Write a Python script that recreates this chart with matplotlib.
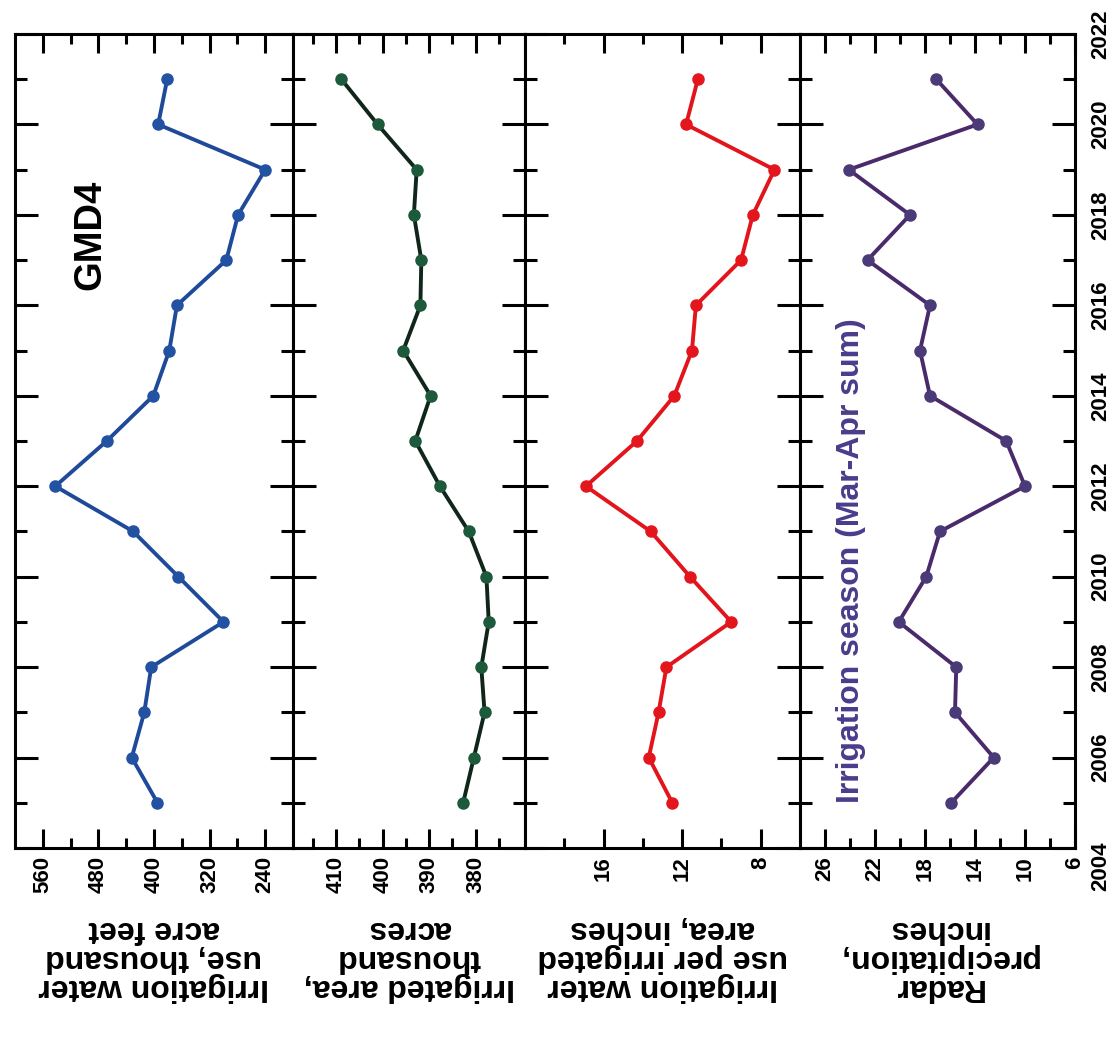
import matplotlib
matplotlib.use("Agg")
import matplotlib.pyplot as plt
from matplotlib.ticker import MultipleLocator

plt.rcParams['font.family'] = ['Liberation Sans', 'DejaVu Sans']
plt.rcParams['font.weight'] = 'bold'

# Annual series, 2005-2021
years = list(range(2005, 2022))
water_use = [395, 432, 414, 404, 300, 365, 430, 542, 468, 401, 378, 367, 296, 279, 240, 394, 381]
irrigated_area = [382.7, 380.4, 378.1, 378.8, 377.2, 377.7, 381.5, 387.7, 393.0, 389.7,
                  395.6, 391.9, 391.7, 393.3, 392.7, 401.1, 408.9]
water_per_area = [12.5, 13.7, 13.2, 12.8, 9.5, 11.6, 13.6, 16.9, 14.3, 12.4,
                  11.5, 11.3, 9.0, 8.4, 7.3, 11.8, 11.2]
precip = [15.9, 12.5, 15.6, 15.5, 20.1, 17.9, 16.8, 10.0, 11.5, 17.6,
          18.4, 17.6, 22.6, 19.2, 24.1, 13.8, 17.1]

year_ticks = list(range(2004, 2023, 2))

wu_major = [560, 480, 400, 320, 240]
wu_minor = [520, 440, 360, 280]
ia_major = [410, 400, 390, 380]
ia_minor = [415, 405, 395, 385, 375]
wpa_major = [16, 12, 8]
wpa_minor = [18, 14, 10]
pr_major = [26, 22, 18, 14, 10, 6]
pr_minor = [24, 20, 16, 12, 8]

labels = [
    "Irrigation water\nuse, thousand\nacre feet",
    "Irrigated area,\nthousand\nacres",
    "Irrigation water\nuse per irrigated\narea, inches",
    "Radar\nprecipitation,\ninches",
]

W, H = 1117, 1051
fig = plt.figure(figsize=(W / 100, H / 100), dpi=100)
fig.patch.set_facecolor("white")

top_px, bot_px = 34, 848
edges_px = [15, 293, 525, 800, 1075]

panels = [
    dict(values=water_use, xlim=(600, 200), major=wu_major, minor=wu_minor,
         line="#1f4a9a", marker="#2352a3"),
    dict(values=irrigated_area, xlim=(419.3, 369.4), major=ia_major, minor=ia_minor,
         line="#10261a", marker="#1c5a3b"),
    dict(values=water_per_area, xlim=(20, 6), major=wpa_major, minor=wpa_minor,
         line="#e2141c", marker="#e3161e"),
    dict(values=precip, xlim=(28, 6), major=pr_major, minor=pr_minor,
         line="#4a2a6a", marker="#4b3a78"),
]

for i, p in enumerate(panels):
    x0, x1 = edges_px[i], edges_px[i + 1]
    ax = fig.add_axes([x0 / W, 1 - bot_px / H, (x1 - x0) / W, (bot_px - top_px) / H])
    ax.plot(p["values"], years, color=p["line"], lw=2.8, zorder=2)
    ax.plot(p["values"], years, ls="none", marker="o", ms=8,
            mfc=p["marker"], mec=p["marker"], zorder=3)

    ax.set_xlim(*p["xlim"])
    ax.set_ylim(2004, 2022)

    ax.set_xticks(p["major"], labels=[str(v) for v in p["major"]],
                  rotation=90, fontsize=16, fontweight="bold")
    ax.set_xticks(p["minor"], minor=True)
    ax.set_yticks(year_ticks)
    ax.yaxis.set_minor_locator(MultipleLocator(1))

    ax.tick_params(axis="x", which="both", direction="in", top=True, bottom=True,
                   width=2.2, pad=6)
    ax.tick_params(axis="x", which="major", length=14)
    ax.tick_params(axis="x", which="minor", length=7)
    ax.tick_params(axis="y", which="both", direction="in", left=True, right=True,
                   labelleft=False, labelright=(i == 3), width=2.2, pad=11)
    ax.tick_params(axis="y", which="major", length=16.5)
    ax.tick_params(axis="y", which="minor", length=8.5)
    if i == 3:
        # the first year label sits a little below its tick, clear of the "6"
        year_labels = ["" if y == 2004 else str(y) for y in year_ticks]
        ax.set_yticks(year_ticks, labels=year_labels,
                      rotation=90, va="center", fontsize=16, fontweight="bold")
        ax.annotate("2004", xy=(1, 2004), xycoords=("axes fraction", "data"),
                    xytext=(11, -13), textcoords="offset points",
                    rotation=90, ha="left", va="center",
                    fontsize=16, fontweight="bold", annotation_clip=False)

    for s in ax.spines.values():
        s.set_linewidth(2.2)

    fig.text(((x0 + x1) / 2) / W, 1 - 958 / H, labels[i], rotation=180,
             ha="center", va="center", multialignment="center",
             fontsize=23, fontweight="bold", linespacing=0.95)

fig.text(90 / W, 1 - 235 / H, "GMD4", rotation=90, ha="center", va="center",
         fontsize=27.5, fontweight="bold", color="black")
fig.text(851 / W, 1 - 561 / H, "Irrigation season (Mar-Apr sum)", rotation=90,
         ha="center", va="center", fontsize=23, fontweight="bold", color="#4b3c8c")

fig.savefig("out.png", dpi=100, facecolor="white")
